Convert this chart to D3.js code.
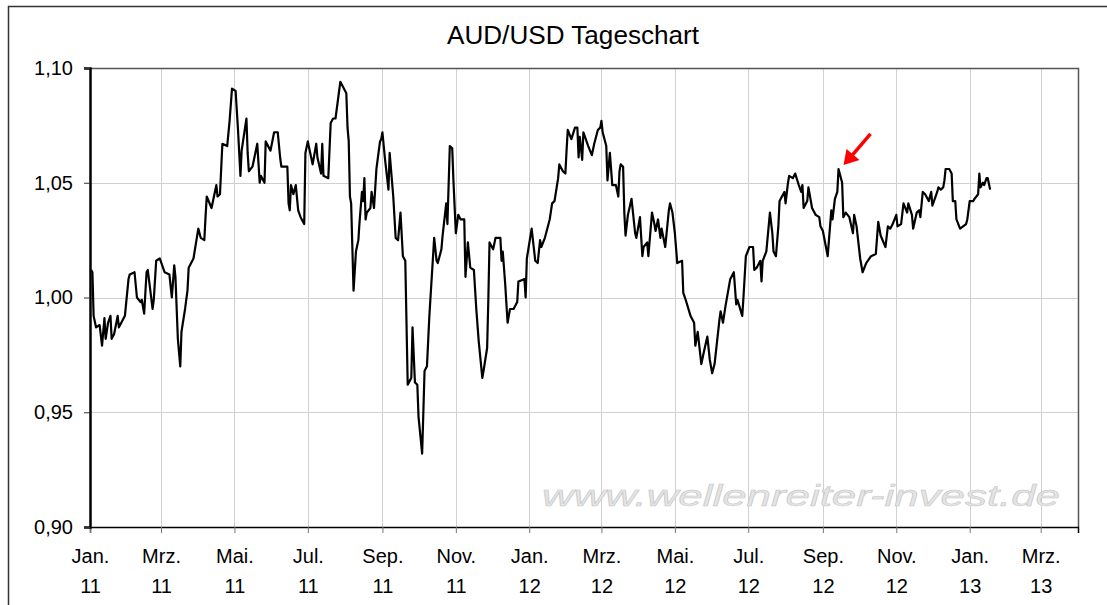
<!DOCTYPE html>
<html>
<head>
<meta charset="utf-8">
<script src="https://cdn.jsdelivr.net/npm/d3@7"></script>
<style>
  body { margin: 0; background: #fff; }
  text { font-family: Arial, "Liberation Sans", sans-serif; }
</style>
</head>
<body>
<svg id="chart" width="1107" height="605"></svg>
<script>
// AUD/USD daily close (days counted from 1 Jan 2011)
const days = [
  1,2,3,5,8,10,12,13,15,17,18,20,23,24,26,29,32,33,37,39,42,43,45,47,48,52,53,55,58,60,
  62,66,68,70,71,73,75,76,79,81,82,86,90,92,95,96,97,101,105,106,108,110,114,116,118,121,123,125,126,130,
  131,132,135,139,141,142,145,146,150,153,156,158,159,164,165,166,167,169,171,173,175,178,179,181,185,188,189,192,193,194,
  198,200,202,204,
  208,210,213,214,215,216,217,219,221,223,224,226,227,228,229,230,233,234,236,238,241,242,243,245,248,249,252,254,256,258,
  260,262,264,266,267,268,270,272,273,276,278,280,282,286,288,289,292,293,296,297,299,301,302,304,306,308,311,312,314,316,
  319,321,323,326,327,330,331,332,335,337,341,342,343,345,347,349,352,355,356,361,362,363,367,370,372,374,375,378,382,384,
  386,389,390,393,395,396,397,400,403,405,
  406,407,409,410,414,417,419,422,424,425,426,429,430,432,434,437,439,440,441,443,444,445,447,450,453,454,457,459,460,463,
  464,467,469,470,472,474,475,478,481,482,484,486,488,492,493,495,499,502,503,505,508,510,513,515,517,519,523,524,526,528,
  532,535,537,538,542,543,545,548,551,552,554,557,558,559,562,565,567,568,570,572,573,577,578,580,581,584,586,589,591,592,
  593,596,597,600,603,606,
  607,609,613,616,617,619,621,622,625,626,628,631,634,635,637,640,642,645,649,653,655,657,661,663,665,667,670,671,674,676,
  679,680,683,684,687,689,690,692,694,697,699,700,704,705,707,709,710,711,714,716,717,719,720,723,728,729,731,734,735,738,
  739,740,742,743,745,746,748
]
const audusd = [
  1.012,1.011,0.992,0.987,0.988,0.979,0.991,0.982,0.989,0.992,0.982,0.984,0.992,0.987,0.989,0.992,1.008,1.010,1.011,1.000,
  0.998,0.999,0.993,1.011,1.012,0.995,0.999,1.016,1.017,1.014,1.011,1.010,1.000,1.014,1.009,0.982,0.970,0.985,0.995,1.003,
  1.013,1.017,1.030,1.026,1.025,1.035,1.044,1.039,1.049,1.044,1.045,1.067,1.066,1.077,1.091,1.090,1.073,1.053,1.064,1.078,
  1.063,1.055,1.057,1.067,1.050,1.053,1.050,1.068,1.064,1.072,1.072,1.061,1.057,1.057,1.041,1.038,1.049,1.045,1.049,1.038,
  1.035,1.032,1.063,1.068,1.058,1.067,1.061,1.054,1.067,1.053,1.052,1.076,1.078,1.078,
  1.094,1.092,1.089,1.074,1.068,1.044,1.041,1.003,1.020,1.025,1.033,1.046,1.042,1.052,1.034,1.037,1.039,1.046,1.039,1.056,
  1.068,1.069,1.072,1.061,1.047,1.063,1.044,1.026,1.025,1.037,1.018,1.016,0.962,0.964,0.965,0.987,0.963,0.962,0.948,0.932,
  0.968,0.970,0.992,1.026,1.016,1.015,1.021,1.027,1.041,1.032,1.066,1.065,1.051,1.028,1.036,1.034,1.034,1.009,1.024,1.013,
  1.012,0.995,0.981,0.965,0.968,0.978,0.999,1.024,1.021,1.026,1.026,1.016,1.020,1.006,0.989,0.995,0.995,0.998,1.007,1.008,
  1.000,1.017,1.030,1.016,1.015,1.025,1.022,1.026,1.034,1.041,1.042,1.052,1.058,1.055,1.054,1.064,1.073,1.069,1.074,1.074,
  1.061,1.070,1.060,1.072,1.066,1.062,1.067,1.073,1.074,1.077,1.072,1.066,1.051,1.063,1.049,1.049,1.044,1.055,1.058,1.057,
  1.037,1.027,1.036,1.043,1.028,1.026,1.035,1.018,1.022,1.024,1.018,1.037,1.032,1.029,1.034,1.026,1.030,1.022,1.038,1.041,
  1.037,1.028,1.015,1.016,1.002,0.999,0.992,0.989,0.979,0.985,0.971,0.976,0.983,0.973,0.967,0.971,0.990,0.994,0.989,0.996,
  1.008,1.011,0.997,0.999,0.992,1.000,1.018,1.022,1.022,1.012,1.013,1.016,1.007,1.016,1.020,1.037,1.028,1.020,1.018,1.031,
  1.042,1.046,1.041,1.050,1.053,1.052,1.054,1.049,1.046,1.049,1.039,1.042,1.048,1.039,1.036,1.035,
  1.031,1.029,1.018,1.038,1.034,1.043,1.046,1.056,1.050,1.035,1.037,1.035,1.028,1.036,1.031,1.017,1.011,1.015,1.018,1.019,
  1.033,1.027,1.022,1.031,1.030,1.032,1.036,1.031,1.032,1.041,1.037,1.041,1.036,1.030,1.037,1.038,1.035,1.046,1.045,1.042,
  1.046,1.040,1.046,1.048,1.047,1.048,1.051,1.056,1.056,1.054,1.042,1.042,1.034,1.030,1.032,1.034,1.042,1.042,1.043,1.045,
  1.054,1.048,1.050,1.049,1.052,1.052,1.047
]
const monthNames = ['Jan.', 'Feb.', 'Mrz.', 'Apr.', 'Mai.', 'Jun.', 'Jul.', 'Aug.', 'Sep.', 'Okt.', 'Nov.', 'Dez.']
const yTicks = [0.90, 0.95, 1.00, 1.05, 1.10]
const arrowDay = 622 // the marked high in Sep. 12
const title = 'AUD/USD Tageschart'
const watermark = 'www.wellenreiter-invest.de'

const start = Date.UTC(2011, 0, 1)
const toDate = d => new Date(start + d * 864e5)
const data = days.map((d, i) => ({ date: toDate(d), value: audusd[i] }))

let margin = {top: 68, right: 29, bottom: 78, left: 90}
let width = 1107 - margin.left - margin.right
let height = 605 - margin.top - margin.bottom

const de = d3.formatLocale({decimal: ',', thousands: '.', grouping: [3], currency: ['', ' €']})
const fmt = de.format('.2f')

let x = d3.scaleUtc()
    .domain([new Date(Date.UTC(2011, 0, 1)), new Date(Date.UTC(2013, 3, 1))])
    .range([0, width])

let y = d3.scaleLinear()
    .domain([0.90, 1.10])
    .range([height, 0])

let svg = d3.select('#chart')

// outer frame
svg.append('path')
    .attr('d', 'M8.5,620V6.5H1120')
    .attr('fill', 'none')
    .attr('stroke', '#333')
    .attr('stroke-width', 1.5)

svg.append('text')
    .attr('x', 573)
    .attr('y', 44)
    .attr('text-anchor', 'middle')
    .attr('font-size', 25)
    .attr('textLength', 252)
    .attr('lengthAdjust', 'spacingAndGlyphs')
    .attr('fill', '#000')
    .text(title)

let chart = svg.append('g')
    .attr('transform', 'translate(' + margin.left + ',' + margin.top + ')')

let xTicks = x.ticks(d3.utcMonth.every(2))

// grid
chart.append('g')
    .selectAll('line')
    .data(xTicks.slice(1))
  .enter().append('line')
    .attr('x1', d => Math.round(x(d)) + 0.5)
    .attr('x2', d => Math.round(x(d)) + 0.5)
    .attr('y1', 0)
    .attr('y2', height)
    .attr('stroke', '#d0d0d0')

chart.append('g')
    .selectAll('line')
    .data(yTicks.slice(1, -1))
  .enter().append('line')
    .attr('x1', 0)
    .attr('x2', width)
    .attr('y1', d => Math.round(y(d)) + 0.5)
    .attr('y2', d => Math.round(y(d)) + 0.5)
    .attr('stroke', '#d0d0d0')

// watermark
chart.append('text')
    .attr('x', 452)
    .attr('y', 438)
    .attr('font-size', 29)
    .attr('font-style', 'italic')
    .attr('textLength', 518)
    .attr('lengthAdjust', 'spacingAndGlyphs')
    .attr('fill', '#e4e4e4')
    .attr('stroke', '#c4c4c4')
    .attr('stroke-width', 0.5)
    .text(watermark)

// plot border top / right
chart.append('path')
    .attr('d', 'M0,0.5H' + (width + 0.5) + 'V' + height)
    .attr('fill', 'none')
    .attr('stroke', '#555')
    .attr('stroke-width', 1.5)

// x axis
let xAxis = d3.axisBottom(x)
    .tickValues(xTicks)
    .tickSize(6)
    .tickFormat('')

let gx = chart.append('g')
    .attr('transform', 'translate(0,' + height + ')')
    .call(xAxis)
gx.select('.domain').attr('stroke', '#000').attr('stroke-width', 1.5)
gx.selectAll('.tick line').attr('stroke', '#777')

let lbl = gx.selectAll('.tick')
    .append('text')
    .attr('fill', '#000')
    .attr('font-size', 20)
    .attr('text-anchor', 'middle')
lbl.append('tspan')
    .attr('x', 0)
    .attr('y', 36)
    .text(d => monthNames[d.getUTCMonth()])
lbl.append('tspan')
    .attr('x', 0)
    .attr('y', 66)
    .text(d => d3.utcFormat('%y')(d))

// y axis
let yAxis = d3.axisLeft(y)
    .tickValues(yTicks)
    .tickSize(6)
    .tickPadding(11)
    .tickFormat(fmt)

let gy = chart.append('g').call(yAxis)
gy.select('.domain').attr('stroke', '#000').attr('stroke-width', 2.5)
gy.selectAll('.tick line').attr('stroke', '#333')
gy.selectAll('.tick text')
    .attr('font-size', 20)
    .attr('fill', '#000')
    .attr('font-family', 'Arial, "Liberation Sans", sans-serif')

gx.selectAll('text').attr('font-family', 'Arial, "Liberation Sans", sans-serif')

// price line
let line = d3.line()
    .x(d => x(d.date))
    .y(d => y(d.value))

chart.append('path')
    .datum(data)
    .attr('d', line)
    .attr('fill', 'none')
    .attr('stroke', '#000')
    .attr('stroke-width', 2.2)
    .attr('stroke-linejoin', 'round')

// red arrow at the marked high
let peak = data.find(d => +d.date === +toDate(arrowDay))
let tx = x(peak.date) + 5
let ty = y(peak.value) - 4
chart.append('line')
    .attr('x1', tx + 27)
    .attr('y1', ty - 31)
    .attr('x2', tx + 9)
    .attr('y2', ty - 10)
    .attr('stroke', '#ff0000')
    .attr('stroke-width', 3.5)
chart.append('path')
    .attr('d', 'M' + tx + ',' + ty + 'L' + (tx + 3) + ',' + (ty - 16) + 'L' + (tx + 16) + ',' + (ty - 5) + 'Z')
    .attr('fill', '#ff0000')
</script>
</body>
</html>
